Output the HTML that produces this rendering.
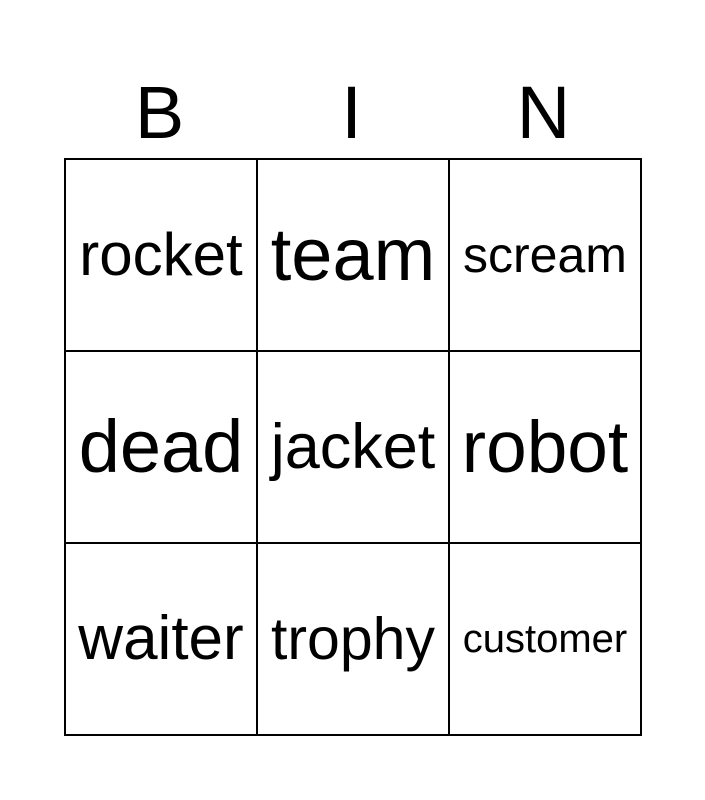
<!DOCTYPE html>
<html><head><style>
body{margin:0;width:705px;height:800px;background:#fff;font-family:"Liberation Sans",Arial,sans-serif;position:relative;overflow:hidden}
.h{position:absolute;top:68px;width:193px;text-align:center;font-size:74px;line-height:90px;color:#000}
table{position:absolute;left:64px;top:158px;border-collapse:collapse}
td{width:190px;height:190px;border:2px solid #000;text-align:center;vertical-align:middle;padding:0;white-space:nowrap;line-height:1}
</style></head><body>
<div class="h" style="left:63px">B</div>
<div class="h" style="left:255px">I</div>
<div class="h" style="left:447px">N</div>
<table>
<tr><td style="font-size:60px">rocket</td><td style="font-size:74px">team</td><td style="font-size:50px">scream</td></tr>
<tr><td style="font-size:74px">dead</td><td style="font-size:63px">jacket</td><td style="font-size:73px">robot</td></tr>
<tr><td style="font-size:62px">waiter</td><td style="font-size:59px">trophy</td><td style="font-size:40px">customer</td></tr>
</table>
</body></html>
